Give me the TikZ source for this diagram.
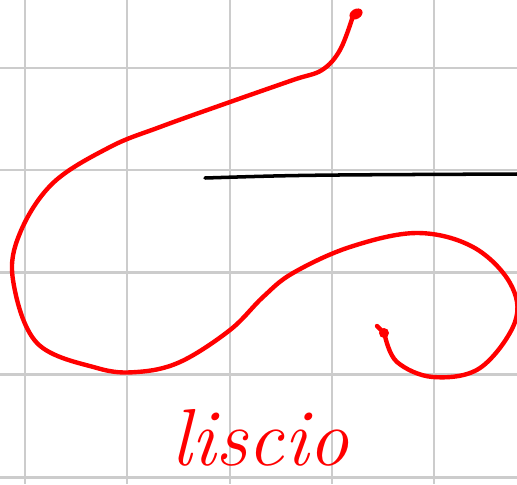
\documentclass[tikz,border=0pt]{standalone}
\usepackage{tikz}
\usetikzlibrary{calc}
\usepackage{xcolor}
\definecolor{gridGray}{RGB}{204,204,204}
\definecolor{penRed}{RGB}{255,0,0}
\tikzset{
    gridline/.style={draw=gridGray,line width=1.7pt},
    inkblack/.style={draw=black,line width=2pt,line cap=round},
    redpen/.style={draw=penRed,line width=2.5pt,line cap=round,line join=round},
    inkdot/.style={fill=penRed},
    handlabel/.style={text=penRed,font=\fontsize{46}{46}\selectfont\itshape,inner sep=0pt}
}
\begin{document}
\begin{tikzpicture}[x=0.02cm,y=-0.02cm]
    \useasboundingbox (0,0) rectangle (517,484);
    % squared paper
    \foreach \gx in {25,127,230,332,434}
        \draw[gridline] (\gx,0) -- (\gx,484);
    \foreach \gy in {68,170,272,374,477}
        \draw[gridline] (0,\gy) -- (517,\gy);
    % black reference line
    \coordinate (lineL) at (205,178);
    \coordinate (lineR) at (517,174);
    \draw[inkblack] (lineL) .. controls (300,175) .. (lineR);
    % red stroke, start and end
    \coordinate (penStart) at (356,14);
    \coordinate (penEnd)   at (384,333);
    \fill[inkdot,rotate around={30:(penStart)}] (penStart) ellipse (7 and 5);
    \draw[redpen] plot[smooth,tension=0.6] coordinates {
        (353,16) (340,50) (322,70) (293,80) (230,102) (160,127) (110,147)
        (53,183) (20,233) (13,280) (37,343) (97,368) (137,372) (180,362)
        (230,330) (263,297) (293,273) (350,247) (417,233) (473,247)
        (510,283) (515,322) (480,368) (433,377) (397,362) (385,336)};
    \draw[redpen] (377,326) -- (penEnd);
    \fill[inkdot] (penEnd) circle (5);
    % handwritten word
    \node[handlabel] (word) at (260,438) {liscio};
\end{tikzpicture}
\end{document}
